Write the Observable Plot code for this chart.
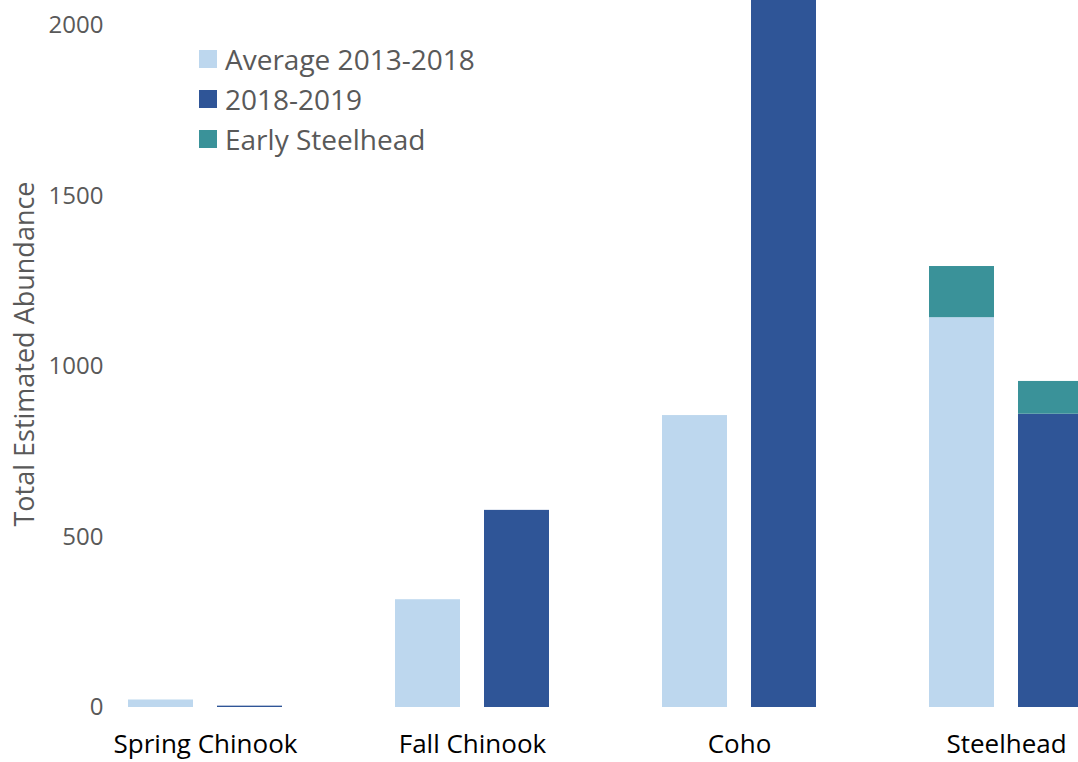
<!DOCTYPE html>
<html>
<head>
<meta charset="utf-8">
<script src="https://cdn.jsdelivr.net/npm/d3@7"></script>
<script src="https://cdn.jsdelivr.net/npm/@observablehq/plot@0.6"></script>
<style>
  html, body { margin: 0; padding: 0; background: #fff; overflow: hidden; }
  #wrap { position: relative; width: 1078px; height: 762px; overflow: hidden; font-family: "Open Sans", sans-serif; }
  #wrap svg { display: block; max-width: none !important; height: 762px !important; }
  #legend { position: absolute; left: 199px; top: 39px; color: #595959; font-size: 28px; }
  #legend .row { display: flex; align-items: center; height: 40px; }
  #legend .sw { width: 18px; height: 18px; margin-right: 8px; flex: none; }
</style>
</head>
<body>
<div id="wrap"><div id="legend"></div></div>
<script>
const categories = ["Spring Chinook", "Fall Chinook", "Coho", "Steelhead"];
const seriesNames = ["Average 2013-2018", "2018-2019"];
const averageValues = [22, 316, 856, 1143];
const recentValues = [4, 578, 2300, 860];
const earlyAverage = [0, 0, 0, 150];
const earlyRecent = [0, 0, 0, 96];
const legendNames = ["Average 2013-2018", "2018-2019", "Early Steelhead"];
const colors = ["#BDD7EE", "#2F5597", "#3A9299"];
const yTicks = [0, 500, 1000, 1500, 2000];

const rows = [];
categories.forEach((c, i) => {
  rows.push({cat: c, series: seriesNames[0], part: legendNames[0], value: averageValues[i]});
  rows.push({cat: c, series: seriesNames[0], part: legendNames[2], value: earlyAverage[i]});
  rows.push({cat: c, series: seriesNames[1], part: legendNames[1], value: recentValues[i]});
  rows.push({cat: c, series: seriesNames[1], part: legendNames[2], value: earlyRecent[i]});
});

const chart = Plot.plot({
  width: 1084,
  height: 762,
  marginTop: 0,
  marginLeft: 127,
  marginRight: 0,
  marginBottom: 55,
  facet: {marginTop: 0, marginBottom: 0, marginLeft: 0, marginRight: 0},
  style: {fontFamily: "Open Sans, sans-serif", background: "transparent", overflow: "hidden", maxWidth: "none"},
  fx: {domain: categories, paddingInner: 0.4245, paddingOuter: 0, label: null},
  x: {domain: seriesNames, paddingInner: 0.27, paddingOuter: 0, axis: null},
  y: {domain: [0, 2073], label: null},
  color: {domain: legendNames, range: colors},
  marks: [
    Plot.barY(rows, {fx: "cat", x: "series", y: "value", fill: "part", clip: true}),
    Plot.axisY({ticks: yTicks, tickFormat: d => String(d), tickSize: 0, tickPadding: 25, fontSize: 24, fill: "#595959", label: null}),
    Plot.axisY({ticks: [], fontSize: 27, fill: "#595959",
      label: "Total Estimated Abundance", labelAnchor: "center", labelOffset: 114, labelArrow: "none"}),
    Plot.axisFx({anchor: "bottom", tickSize: 0, tickPadding: 27, fontSize: 26, fill: "#000", label: null})
  ]
});
document.getElementById("wrap").prepend(chart);

const leg = document.getElementById("legend");
legendNames.forEach((n, i) => {
  const r = document.createElement("div");
  r.className = "row";
  r.innerHTML = `<span class="sw" style="background:${colors[i]}"></span><span>${n}</span>`;
  leg.appendChild(r);
});
</script>
</body>
</html>
